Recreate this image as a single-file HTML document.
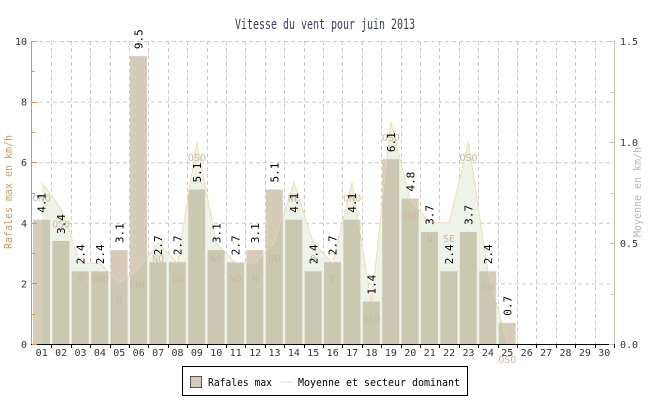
<!DOCTYPE html>
<html><head><meta charset="utf-8"><style>
body{margin:0;background:#fff}
svg{display:block;font-family:"DejaVu Sans Mono","Liberation Mono",monospace}
</style></head><body>
<svg id="c" width="650" height="400">
<defs><clipPath id="ac"><path id="acp" d=""/></clipPath></defs>
<rect width="650" height="400" fill="#fff"/>
<text x="325" y="29" text-anchor="middle" font-size="14" textLength="180" lengthAdjust="spacingAndGlyphs" fill="#3a3f5a">Vitesse du vent pour juin 2013</text>
<g id="grid"></g><g id="bars"></g><g id="area"></g><g id="bars2" clip-path="url(#ac)"></g><g id="labels"></g><g id="axes"></g>
<g>
<rect x="182.5" y="366.5" width="285" height="29" fill="#fff" stroke="#000"/>
<rect x="190.5" y="376.5" width="11" height="11" fill="#d6cab9" stroke="#555"/>
<text x="208" y="386" font-size="11" textLength="64" lengthAdjust="spacingAndGlyphs" fill="#000">Rafales max</text>
<line x1="280" y1="382" x2="292" y2="382" stroke="#f0e4cc" stroke-width="1.5"/>
<text x="298" y="386" font-size="11" textLength="162" lengthAdjust="spacingAndGlyphs" fill="#000">Moyenne et secteur dominant</text>
</g>
<text transform="translate(12,192) rotate(-90)" text-anchor="middle" font-size="11" textLength="114" lengthAdjust="spacingAndGlyphs" fill="#c89a60">Rafales max en km/h</text>
<text transform="translate(641,192) rotate(-90)" text-anchor="middle" font-size="11" textLength="90" lengthAdjust="spacingAndGlyphs" fill="#b8b8b8">Moyenne en km/h</text>
</svg>
<script>
const days=["01","02","03","04","05","06","07","08","09","10","11","12","13","14","15","16","17","18","19","20","21","22","23","24","25","26","27","28","29","30"];
const gusts=[4.1,3.4,2.4,2.4,3.1,9.5,2.7,2.7,5.1,3.1,2.7,3.1,5.1,4.1,2.4,2.7,4.1,1.4,6.1,4.8,3.7,2.4,3.7,2.4,0.7];
const avg=[0.8,0.67,0.4,0.4,0.3,0.37,0.5,0.4,1.0,0.5,0.4,0.4,0.5,0.8,0.5,0.4,0.8,0.2,1.1,0.71,0.6,0.6,1.0,0.36,0.0];
const dirs=["ONO","OSO","O","ONO","O","ENE","NO","SO","OSO","NO","NO","N","SO","NE","O","E","ONO","OSO","OSO","NNO","N","SE","OSO","SO","OSO"];
const leftTicks=[0,2,4,6,8,10];
const rightTicks=["0.0","0.5","1.0","1.5"];
const X0=32,X1=614,Y0=344,Y1=41,bw=(X1-X0)/30;
const yL=v=>Y0-v/10*(Y0-Y1), yR=v=>Y0-v/1.5*(Y0-Y1), xc=i=>X0+(i+0.5)*bw;
const NS="http://www.w3.org/2000/svg";
function mk(p,t,a){const e=document.createElementNS(NS,t);for(const k in a)e.setAttribute(k,a[k]);p.appendChild(e);return e;}
const g=document.getElementById('grid'),b=document.getElementById('bars'),b2=document.getElementById('bars2'),ar=document.getElementById('area'),lb=document.getElementById('labels'),ax=document.getElementById('axes');
leftTicks.forEach(v=>{if(v>0){const l=mk(g,'line',{x1:X0,x2:X1,y1:yL(v)+.5,y2:yL(v)+.5,stroke:'#ccc','stroke-dasharray':'4,3'});}});
for(let i=1;i<=30;i++){const x=Math.round(X0+i*bw)+.5;const l=mk(g,'line',{x1:x,x2:x,y1:Y1,y2:Y0,stroke:'#ccc','stroke-dasharray':'4,3'});}
gusts.forEach((v,i)=>{const x=X0+i*bw+1,w=bw-2.4;
const r=mk(b,'rect',{x:x,y:yL(v),width:w,height:Y0-yL(v),fill:'#d6cab9'});
const r2=mk(b2,'rect',{x:x,y:yL(v),width:w,height:Y0-yL(v),fill:'#cbc8b2'});});
let pts=avg.map((v,i)=>xc(i)+','+yR(v));
let d='M'+xc(0)+','+Y0+' L'+pts.join(' L')+' L'+xc(avg.length-1)+','+Y0+' Z';
const ap=mk(ar,'path',{d:d,fill:'#eef3ea'});
const al=mk(ar,'polyline',{points:pts.join(' '),fill:'none',stroke:'#f0dcb8','stroke-width':1});
document.getElementById('acp').setAttribute('d',d);
dirs.forEach((t,i)=>{const e=mk(lb,'text',{x:xc(i),y:yR(avg[i])+19,'text-anchor':'middle','font-size':10,fill:'#c8b8a0'});e.textContent=t;});
gusts.forEach((v,i)=>{const x=xc(i)+4,y=yL(v)-7;const e=mk(lb,'text',{transform:`translate(${x},${y}) rotate(-90)`,'font-size':11,fill:'#000'});e.textContent=v.toFixed(1);});
let l=mk(ax,'line',{x1:X0-.5,x2:X0-.5,y1:Y1,y2:Y0,stroke:'#d09a50'});
l=mk(ax,'line',{x1:X1+.5,x2:X1+.5,y1:Y1,y2:Y0,stroke:'#c8c0b0'});
l=mk(ax,'line',{x1:X0-1,x2:X1+1,y1:Y0+.5,y2:Y0+.5,stroke:'#000'});
for(let v=0;v<=10;v++){const y=Math.round(yL(v))+.5;mk(ax,'line',{x1:X0,x2:X0+(v%2?3:5),y1:y,y2:y,stroke:'#d09a50'});}
leftTicks.forEach(v=>{const e=mk(ax,'text',{x:27,y:yL(v)+4,'text-anchor':'end','font-size':10,fill:'#333'});e.textContent=v;});
for(let k=0;k<=6;k++){const y=Math.round(yR(k*0.25))+.5;mk(ax,'line',{x1:X1-(k%2?3:5),x2:X1,y1:y,y2:y,stroke:'#c8c0b0'});}
rightTicks.forEach(t=>{const e=mk(ax,'text',{x:620,y:yR(+t)+4,'font-size':10,fill:'#333'});e.textContent=t;});
days.forEach((t,i)=>{const x=Math.round(X0+(i+1)*bw)+.5;mk(ax,'line',{x1:x,x2:x,y1:Y0,y2:Y0+4,stroke:'#000'});const e=mk(ax,'text',{x:xc(i),y:356,'text-anchor':'middle','font-size':10,fill:'#333'});e.textContent=t;});
</script>
</body></html>
